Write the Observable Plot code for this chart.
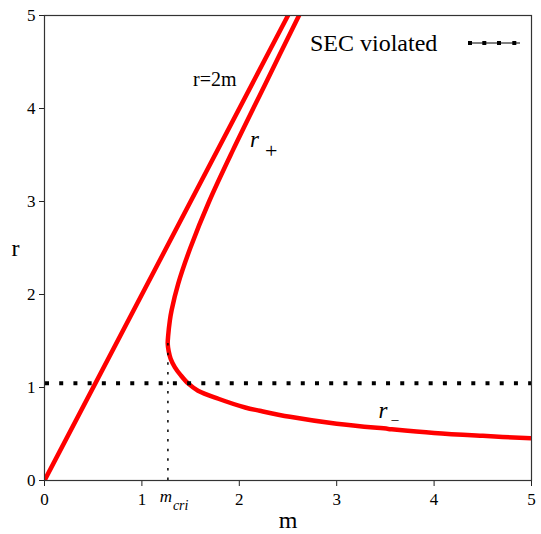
<!DOCTYPE html>
<html>
<head>
<meta charset="utf-8">
<script src="https://cdn.jsdelivr.net/npm/d3@7"></script>
<script src="https://cdn.jsdelivr.net/npm/@observablehq/plot@0.6"></script>
<style>
  html, body { margin: 0; padding: 0; background: #fff; }
  #wrap { position: relative; width: 541px; height: 534px; }
  #wrap svg { display: block; }
  #wrap svg, #wrap svg text { font-family: "Liberation Serif", "Times New Roman", serif !important; }
  .legend { position: absolute; left: 310px; top: 28px; font: 24px "Liberation Serif", "Times New Roman", serif; color: #000; line-height: 30px; white-space: nowrap; }
  .legend svg { position: absolute; left: 158px; top: 9px; }
</style>
</head>
<body>
<div id="wrap"></div>
<script>
// Axis ticks (both axes)
const ticks = [0, 1, 2, 3, 4, 5];

// Straight line r = 2m
const lineM = [0, 2.5];
const lineR = [0, 5];

// Horizon curve: upper branch r+ (top) through the turning point down to r- (right)
const curveM = [2.613, 2.27, 1.936, 1.69, 1.497, 1.373, 1.305, 1.287, 1.27, 1.265, 1.275, 1.295, 1.339, 1.40, 1.477, 1.576, 1.785, 2.06, 2.21, 2.52, 3.0, 3.53, 4.0, 4.5, 5.0];
const curveR = [5.0, 4.27, 3.555, 3.0, 2.5, 2.117, 1.83, 1.72, 1.56, 1.47, 1.39, 1.31, 1.217, 1.13, 1.041, 0.966, 0.879, 0.785, 0.75, 0.685, 0.61, 0.555, 0.512, 0.48, 0.453];

// Strong energy condition boundary and critical mass
const secR = 1.045;
const mCri = 1.267;
const rCri = 1.487;

const serif = '"Liberation Serif", "Times New Roman", serif';
const curve = curveM.map((m, i) => ({m, r: curveR[i]}));
const diag = lineM.map((m, i) => ({m, r: lineR[i]}));

const chart = Plot.plot({
  width: 541,
  height: 534,
  marginLeft: 44,
  marginRight: 10,
  marginTop: 15,
  marginBottom: 54,
  style: {fontFamily: serif, fontSize: "17px", color: "#000", background: "#fff"},
  x: {domain: [0, 5]},
  y: {domain: [0, 5]},
  marks: [
    Plot.axisX({ticks, tickFormat: "d", tickSize: 6, tickPadding: 6, label: null, fontSize: 17, stroke: "#222"}),
    Plot.axisY({ticks, tickFormat: "d", tickSize: 5, tickPadding: 4, label: null, fontSize: 17, stroke: "#222"}),
    Plot.line(diag, {x: "m", y: "r", stroke: "#ff0000", strokeWidth: 4.5, clip: true}),
    Plot.line(curve, {x: "m", y: "r", stroke: "#ff0000", strokeWidth: 4.5, curve: "catmull-rom", clip: true}),
    Plot.ruleY([secR], {x1: 0, x2: 5, stroke: "#000", strokeWidth: 4, strokeDasharray: "4,10.21", strokeDashoffset: -1}),
    Plot.ruleX([mCri], {y1: 0, y2: rCri, stroke: "#000", strokeWidth: 1.5, strokeDasharray: "2.5,7.1"}),
    Plot.frame({stroke: "#333", strokeWidth: 1.2}),
    // Curve annotations
    Plot.text(["r=2m"], {x: 1.525, y: 4.31, textAnchor: "start", fontSize: 20}),
    Plot.text(["r"], {x: 2.11, y: 3.67, textAnchor: "start", fontSize: 23, fontStyle: "italic"}),
    Plot.text(["+"], {x: 2.11, y: 3.67, dx: 15, dy: 12, textAnchor: "start", fontSize: 22}),
    Plot.text(["r"], {x: 3.43, y: 0.75, textAnchor: "start", fontSize: 23, fontStyle: "italic"}),
    Plot.text(["\u2013"], {x: 3.43, y: 0.75, dx: 13, dy: 9, textAnchor: "start", fontSize: 14}),
    // Critical mass tick label under the axis
    Plot.text(["m"], {x: mCri, frameAnchor: "bottom", dy: 21, dx: -2, fontSize: 17, fontStyle: "italic"}),
    Plot.text(["cri"], {x: mCri, frameAnchor: "bottom", dy: 29, dx: 5, textAnchor: "start", fontSize: 14, fontStyle: "italic"}),
    // Axis titles
    Plot.text(["m"], {frameAnchor: "bottom", dy: 47, fontSize: 24}),
    Plot.text(["r"], {frameAnchor: "left", dx: -33, fontSize: 24})
  ]
});

const wrap = document.getElementById("wrap");
wrap.appendChild(chart);

// Legend entry for the SEC boundary
const legend = document.createElement("div");
legend.className = "legend";
legend.textContent = "SEC violated";
const ns = "http://www.w3.org/2000/svg";
const sample = document.createElementNS(ns, "svg");
sample.setAttribute("width", "54");
sample.setAttribute("height", "12");
const ln = document.createElementNS(ns, "line");
ln.setAttribute("x1", "0"); ln.setAttribute("x2", "52");
ln.setAttribute("y1", "6"); ln.setAttribute("y2", "6");
ln.setAttribute("stroke", "#000"); ln.setAttribute("stroke-width", "1");
sample.appendChild(ln);
[2, 16.3, 31, 46.3].forEach(cx => {
  const r = document.createElementNS(ns, "rect");
  r.setAttribute("x", cx - 2); r.setAttribute("y", "4");
  r.setAttribute("width", "4"); r.setAttribute("height", "4");
  r.setAttribute("fill", "#000");
  sample.appendChild(r);
});
legend.appendChild(sample);
wrap.appendChild(legend);
</script>
</body>
</html>
